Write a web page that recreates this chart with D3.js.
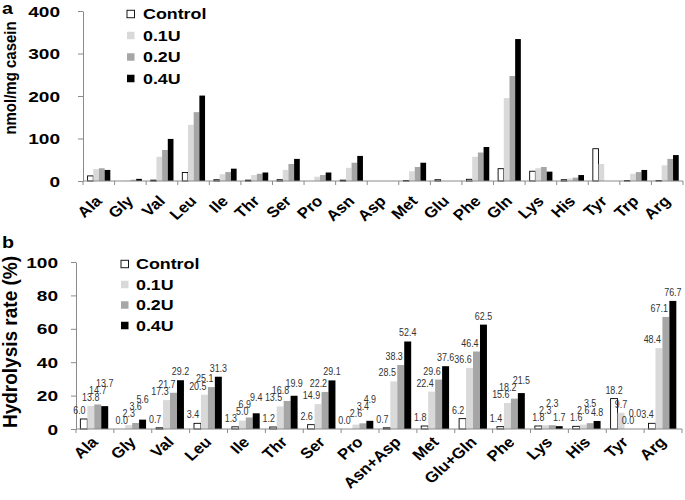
<!DOCTYPE html>
<html><head><meta charset="utf-8">
<script src="https://cdn.jsdelivr.net/npm/d3@7"></script>
<style>body{margin:0;background:#fff}svg{display:block}</style>
</head><body><svg id="c" width="685" height="500"></svg>
<script>
const seriesNames = ["Control", "0.1U", "0.2U", "0.4U"];
const seriesColors = ["#ffffff", "#d9d9d9", "#a6a6a6", "#000000"];

// Panel a: nmol/mg casein
const catsA = ["Ala","Gly","Val","Leu","Ile","Thr","Ser","Pro","Asn","Asp","Met","Glu","Phe","Gln","Lys","His","Tyr","Trp","Arg"];
const controlA = [12, 0, 2, 20, 3, 2, 3, 0, 2, 0, 1, 3, 4, 29, 23, 3, 76, 1, 1];
const u01A = [28, 1, 57, 132, 16, 14, 26, 10, 31, 0, 23, 0, 57, 195, 30, 6, 40, 17, 37];
const u02A = [30, 3, 73, 162, 21, 17, 40, 14, 43, 0, 33, 0, 67, 247, 33, 8, 0, 21, 52];
const u04A = [26, 5, 99, 201, 29, 20, 52, 20, 59, 0, 43, 0, 80, 334, 22, 14, 0, 26, 61];
const ticksA = [0, 100, 200, 300, 400];

// Panel b: hydrolysis rate (%)
const catsB = ["Ala","Gly","Val","Leu","Ile","Thr","Ser","Pro","Asn+Asp","Met","Glu+Gln","Phe","Lys","His","Tyr","Arg"];
const controlB = [6.0, 0.0, 0.7, 3.4, 1.3, 1.2, 2.6, 0.0, 0.7, 1.8, 6.2, 1.4, 1.8, 1.6, 18.2, 3.4];
const u01B = [13.8, 2.3, 17.3, 20.5, 5.0, 13.5, 14.9, 2.6, 28.5, 22.4, 36.6, 15.6, 2.3, 2.6, 9.7, 48.4];
const u02B = [14.7, 3.6, 21.7, 25.1, 6.9, 16.8, 22.2, 3.4, 38.3, 29.6, 46.4, 18.2, 2.3, 3.5, 0.0, 67.1];
const u04B = [13.7, 5.6, 29.2, 31.3, 9.4, 19.9, 29.1, 4.9, 52.4, 37.6, 62.5, 21.5, 1.7, 4.8, 0.0, 76.7];
const ticksB = [0, 20, 40, 60, 80, 100];

const SX = 1.23;      // horizontal stretch of bold text
const SXR = 1.12;     // stretch for rotated category labels
const FONT = "'Liberation Sans', Arial, Helvetica, sans-serif";
const AXIS = "#8a8a8a";

const svg = d3.select("#c");

function drawPanel(o) {
  const g = svg.append("g");
  const x0 = d3.scaleBand().domain(o.cats).range([o.left, o.right]).padding(0);
  const bw = x0.bandwidth();
  const x1 = d3.scaleBand().domain(seriesNames).range([bw * o.inL, bw * (1 - o.inR)]).padding(0);
  const y = d3.scaleLinear().domain([0, o.ymax]).range([o.bottom, o.top]);

  // y axis
  const ya = g.append("g").attr("transform", `translate(${o.left},0)`)
    .call(d3.axisLeft(y).tickValues(o.ticks).tickSize(5).tickSizeOuter(0).tickFormat(""));
  ya.selectAll("path,line").attr("stroke", AXIS);
  g.selectAll(".yt").data(o.ticks).join("text")
    .attr("transform", d => `translate(${o.ylabX},${y(d)}) scale(${SX},1)`)
    .attr("dy", "0.36em").attr("text-anchor", "end")
    .attr("font-family", FONT).attr("font-weight", "bold").attr("font-size", 15.5)
    .text(d => d);

  // y title
  g.append("text")
    .attr("transform", `translate(${o.titleX},${o.titleY}) scale(${o.titleSX},1) rotate(-90)`)
    .attr("text-anchor", "middle")
    .attr("font-family", FONT).attr("font-weight", "bold").attr("font-size", o.titleSize)
    .text(o.title);

  // panel letter
  g.append("text").attr("transform", `translate(${o.letterX},${o.letterY}) scale(${SX},1)`)
    .attr("font-family", FONT).attr("font-weight", "bold").attr("font-size", 16)
    .text(o.letter);

  // bars
  const rows = o.cats.map((c, i) => ({ cat: c, vals: o.series.map((s, j) => ({ key: seriesNames[j], v: s[i], j })) }));
  const grp = g.selectAll(".grp").data(rows).join("g").attr("transform", d => `translate(${x0(d.cat)},0)`);
  grp.selectAll("rect").data(d => d.vals).join("rect")
    .attr("x", d => x1(d.key)).attr("width", x1.bandwidth())
    .attr("y", d => y(d.v)).attr("height", d => y(0) - y(d.v))
    .attr("fill", d => seriesColors[d.j])
    .attr("stroke", d => d.j === 0 ? "#000" : "none")
    .attr("stroke-width", 0.9);

  // x axis line and boundary ticks
  const y0 = y(0);
  g.append("line").attr("x1", o.left).attr("x2", o.right).attr("y1", y0).attr("y2", y0).attr("stroke", AXIS);
  const bounds = o.cats.map(c => x0(c)).concat([x0.range()[1]]);
  g.selectAll(".xt").data(bounds).join("line")
    .attr("x1", d => d).attr("x2", d => d).attr("y1", y0).attr("y2", y0 + 4).attr("stroke", AXIS);

  // category labels
  g.selectAll(".xl").data(o.cats).join("text")
    .attr("transform", d => `translate(${x0(d) + bw / 2 + o.ldx},${y0 + o.ldy}) scale(${SXR},1) rotate(-45)`)
    .attr("text-anchor", "end")
    .attr("font-family", FONT).attr("font-weight", "bold").attr("font-size", 15)
    .text(d => d);

  // legend
  const lg = g.selectAll(".lg").data(seriesNames).join("g")
    .attr("transform", (d, i) => `translate(${o.legX},${o.legY + i * o.legDy})`);
  lg.append("rect").attr("x", 0).attr("y", -3.75).attr("width", 7.5).attr("height", 7.5)
    .attr("fill", (d, i) => seriesColors[i]).attr("stroke", (d, i) => i === 0 ? "#000" : "none").attr("stroke-width", 0.9);
  lg.append("text").attr("transform", `translate(${o.legTx},0) scale(${SX},1)`)
    .attr("dy", "0.36em")
    .attr("font-family", FONT).attr("font-weight", "bold").attr("font-size", 14.5)
    .text(d => d);

  // data labels: shift left when the next bar is taller, then stack to avoid overlap
  if (o.labels) {
    const labs = [];
    const bwi = x1.bandwidth();
    rows.forEach(r => {
      const placed = [];
      r.vals.forEach((d, j) => {
        const txt = d3.format(".1f")(d.v);
        const w = txt.length * 4.3;
        let cx = x0(r.cat) + x1(d.key) + bwi / 2;
        let yy = y(d.v) - 5;
        if (j < r.vals.length - 1) {
          const nx = r.vals[j + 1];
          const nextLeft = x0(r.cat) + x1(nx.key);
          if (y(nx.v) < yy + 1) cx = Math.min(cx, nextLeft - w / 2 - 1.5);
        }
        let moved = true;
        while (moved) {
          moved = false;
          for (const p of placed) {
            if (Math.abs(p.cx - cx) < (p.w + w) / 2 && Math.abs(p.y - yy) < 7) {
              yy = p.y - 7; moved = true;
            }
          }
        }
        const item = { cx, y: yy, w, txt };
        placed.push(item); labs.push(item);
      });
    });
    g.selectAll(".dl").data(labs).join("text")
      .attr("transform", d => `translate(${d.cx},${d.y}) scale(0.85,1)`)
      .attr("text-anchor", "middle")
      .attr("font-family", FONT).attr("font-size", 10.5).attr("fill", "#333")
      .text(d => d.txt);
  }
}

drawPanel({
  cats: catsA, series: [controlA, u01A, u02A, u04A], ticks: ticksA, ymax: 400,
  left: 83, right: 683, top: 11, bottom: 181, inL: 0.145, inR: 0.135,
  ylabX: 60, title: "nmol/mg casein", titleX: 16, titleY: 78, titleSize: 15, titleSX: 1.1,
  letter: "a", letterX: 2, letterY: 14,
  ldx: 4, ldy: 21,
  legX: 127, legY: 14, legDy: 21.5, legTx: 16, labels: false
});

drawPanel({
  cats: catsB, series: [controlB, u01B, u02B, u04B], ticks: ticksB, ymax: 100,
  left: 76, right: 682, top: 262, bottom: 429, inL: 0.115, inR: 0.15,
  ylabX: 58, title: "Hydrolysis rate (%)", titleX: 17, titleY: 342, titleSize: 19, titleSX: 1.05,
  letter: "b", letterX: 2, letterY: 248,
  ldx: 4, ldy: 14,
  legX: 121, legY: 264, legDy: 20.5, legTx: 15, labels: true
});
</script>
</body></html>
